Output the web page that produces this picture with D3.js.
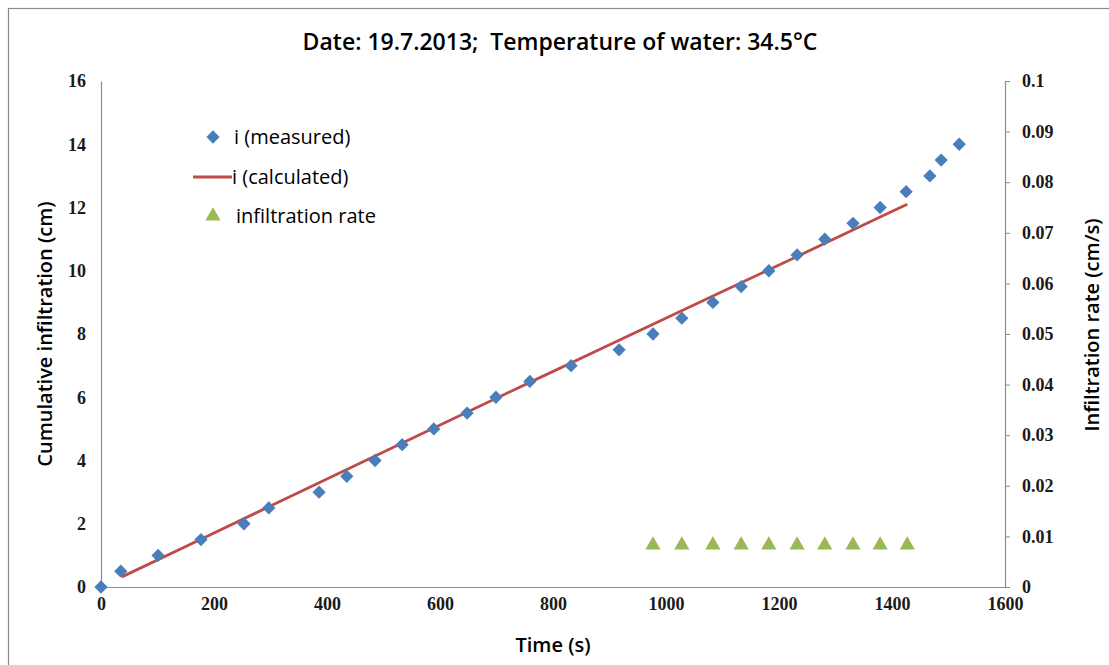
<!DOCTYPE html>
<html>
<head>
<meta charset="utf-8">
<script src="https://cdn.jsdelivr.net/npm/d3@7"></script>
<style>
  body { margin: 0; background: #fff; }
  .tick text { font-family: "Liberation Serif", "DejaVu Serif", serif; font-weight: bold; font-size: 18px; fill: #1a1a1a; }
  .lbl { font-family: "Open Sans", "Noto Sans", sans-serif; font-weight: 600; fill: #000; white-space: pre; }
  .leg { font-family: "Open Sans", "Noto Sans", sans-serif; font-size: 20px; fill: #000; }
</style>
</head>
<body>
<svg width="1109" height="665"></svg>
<script>
// measured cumulative infiltration
var measuredT = [0, 35, 101, 177, 253, 297, 386, 435, 485, 533, 589, 648, 699, 759, 832, 917, 977, 1028, 1083, 1133, 1182, 1232, 1281, 1331, 1379, 1425, 1467, 1487, 1519];
var measuredI = [0, 0.5, 1, 1.5, 2, 2.5, 3, 3.5, 4, 4.5, 5, 5.5, 6, 6.5, 7, 7.5, 8, 8.5, 9, 9.5, 10, 10.5, 11, 11.5, 12, 12.5, 13, 13.5, 14];

// calculated curve
var calcT = [37, 177, 386, 589, 759, 917, 1083, 1232, 1379, 1427];
var calcI = [0.32, 1.51, 3.3, 5.03, 6.47, 7.8, 9.2, 10.45, 11.7, 12.1];

// infiltration rate (right axis)
var rateT = [977, 1028, 1083, 1133, 1182, 1232, 1281, 1331, 1379, 1427];
var rateV = [0.0083, 0.0083, 0.0083, 0.0083, 0.0083, 0.0083, 0.0083, 0.0083, 0.0083, 0.0083];

var xTicks = [0, 200, 400, 600, 800, 1000, 1200, 1400, 1600];
var yTicks = [0, 2, 4, 6, 8, 10, 12, 14, 16];
var y2Ticks = [0, 0.01, 0.02, 0.03, 0.04, 0.05, 0.06, 0.07, 0.08, 0.09, 0.1];

var svg = d3.select("svg");

// outer frame
svg.append("rect")
  .attr("x", 8.5).attr("y", 8.5)
  .attr("width", 1120).attr("height", 680)
  .attr("fill", "#fff")
  .attr("stroke", "#8c8c8c")
  .attr("stroke-width", 1.2);

var x = d3.scaleLinear().domain([0, 1600]).range([101, 1005]);
var y = d3.scaleLinear().domain([0, 16]).range([587, 81]);
var y2 = d3.scaleLinear().domain([0, 0.1]).range([587, 81]);

// axes
var gx = svg.append("g")
  .attr("transform", "translate(0,587)")
  .call(d3.axisBottom(x).tickValues(xTicks).tickSize(0).tickPadding(10).tickFormat(d3.format("d")));
var gy = svg.append("g")
  .attr("transform", "translate(101,0)")
  .call(d3.axisLeft(y).tickValues(yTicks).tickSize(0).tickPadding(15));
var gy2 = svg.append("g")
  .attr("transform", "translate(1005,0)")
  .call(d3.axisRight(y2).tickValues(y2Ticks).tickSize(5).tickPadding(12)
    .tickFormat(function (d) { return d === 0 ? "0" : String(+d.toFixed(2)); }));

[gx, gy, gy2].forEach(function (g) {
  g.select(".domain").attr("stroke", "#8c8c8c").attr("stroke-width", 1.2);
  g.selectAll(".tick line").attr("stroke", "#8c8c8c");
});

// calculated line
svg.append("path")
  .datum(calcT.map(function (t, i) { return [t, calcI[i]]; }))
  .attr("fill", "none")
  .attr("stroke", "#be4b48")
  .attr("stroke-width", 2.8)
  .attr("d", d3.line().x(function (d) { return x(d[0]); }).y(function (d) { return y(d[1]); }));

// measured diamonds
var diamond = d3.symbol().type(d3.symbolSquare).size(88);
svg.append("g").selectAll("path")
  .data(measuredT)
  .enter()
  .append("path")
  .attr("d", diamond)
  .attr("fill", "#4a7ebb")
  .attr("transform", function (d, i) { return "translate(" + x(d) + "," + y(measuredI[i]) + ") rotate(45)"; });

// rate triangles
var tri = d3.symbol().type(d3.symbolTriangle).size(100);
svg.append("g").selectAll("path")
  .data(rateT)
  .enter()
  .append("path")
  .attr("d", tri)
  .attr("fill", "#98b954")
  .attr("transform", function (d, i) { return "translate(" + x(d) + "," + y2(rateV[i]) + ")"; });

// title
svg.append("text").attr("class", "lbl")
  .attr("x", 560).attr("y", 50)
  .attr("text-anchor", "middle")
  .style("font-size", "23px")
  .text("Date: 19.7.2013;  Temperature of water: 34.5°C");

// axis titles
svg.append("text").attr("class", "lbl")
  .attr("x", 553).attr("y", 652)
  .attr("text-anchor", "middle")
  .style("font-size", "20px")
  .text("Time (s)");
svg.append("text").attr("class", "lbl")
  .attr("transform", "translate(52,334) rotate(-90)")
  .attr("text-anchor", "middle")
  .style("font-size", "20px")
  .text("Cumulative infiltration (cm)");
svg.append("text").attr("class", "lbl")
  .attr("transform", "translate(1099,325) rotate(-90)")
  .attr("text-anchor", "middle")
  .style("font-size", "20px")
  .text("Infiltration rate (cm/s)");

// legend
var leg = svg.append("g");
leg.append("path").attr("d", diamond)
  .attr("fill", "#4a7ebb")
  .attr("transform", "translate(213,137) rotate(45)");
leg.append("text").attr("class", "leg").attr("x", 234).attr("y", 144).text("i (measured)");
leg.append("line")
  .attr("x1", 193).attr("x2", 232).attr("y1", 177).attr("y2", 177)
  .attr("stroke", "#be4b48").attr("stroke-width", 2.8);
leg.append("text").attr("class", "leg").attr("x", 232).attr("y", 184).text("i (calculated)");
leg.append("path").attr("d", tri)
  .attr("fill", "#98b954")
  .attr("transform", "translate(213,216)");
leg.append("text").attr("class", "leg").attr("x", 236).attr("y", 223).text("infiltration rate");
</script>
</body>
</html>
